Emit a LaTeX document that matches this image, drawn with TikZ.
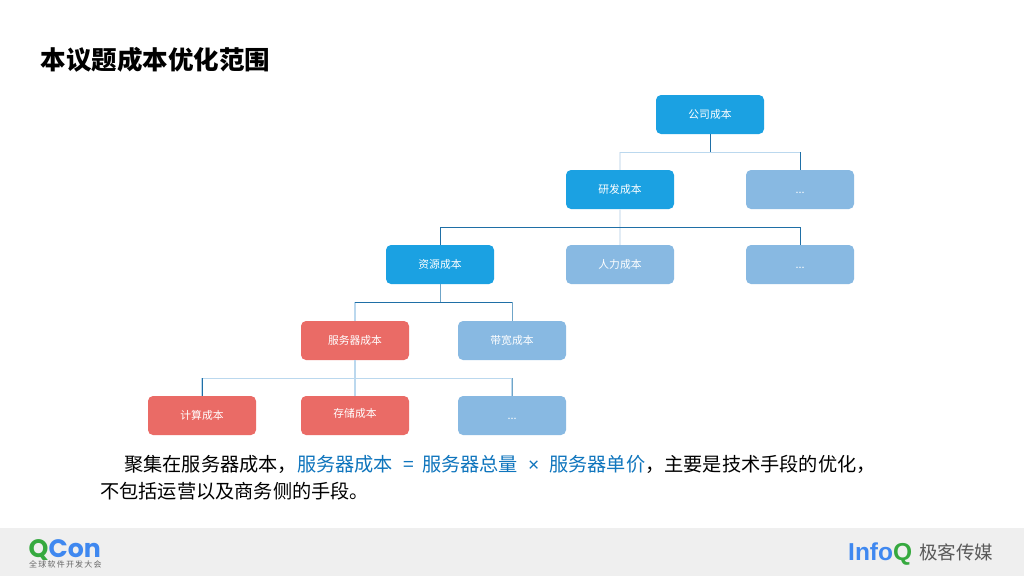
\documentclass[tikz,border=0pt]{standalone}
\usepackage{fontspec}
\setmainfont{Noto Sans CJK SC}
\newfontfamily\logofont{Liberation Sans}
\newfontfamily\qconfont{Poppins}
\usetikzlibrary{calc}
\definecolor{nodeblue}{HTML}{1BA1E2}
\definecolor{nodepale}{HTML}{88B9E2}
\definecolor{nodered}{HTML}{EA6B66}
\definecolor{edgedark}{HTML}{1F6FA6}
\definecolor{edgemid}{HTML}{6FA5C8}
\definecolor{edgelight}{HTML}{BBD8EE}
\definecolor{edgefaint}{HTML}{E2ECF5}
\definecolor{bodyblue}{HTML}{0F75BD}
\definecolor{footerbg}{HTML}{EFEFEF}
\definecolor{qgreen}{HTML}{36A93F}
\definecolor{qblue}{HTML}{3F88F0}
\tikzset{
  box/.style={rounded corners=5pt,minimum width=108pt,minimum height=39pt,inner sep=0pt,
    text=white,font=\fontsize{10.8pt}{11pt}\selectfont,text height=8.5pt,text depth=1.5pt},
  bluebox/.style={box,fill=nodeblue},
  palebox/.style={box,fill=nodepale},
  redbox/.style={box,fill=nodered},
  darkedge/.style={draw=edgedark,line width=1pt},
  midedge/.style={draw=edgemid,line width=1pt},
  lightedge/.style={draw=edgelight,line width=1.2pt},
  faintedge/.style={draw=edgefaint,line width=1.2pt},
  bodytext/.style={anchor=base west,inner sep=0pt,font=\fontsize{19.2pt}{20pt}\selectfont,text=black}
}
\begin{document}
\begin{tikzpicture}[x=1pt,y=-1pt]
\useasboundingbox (0,0) rectangle (1024,576);
\fill[white] (0,0) rectangle (1024,576);
\fill[footerbg] (0,528) rectangle (1024,576);

\node[anchor=base west,inner sep=0pt,font=\fontsize{25.5pt}{26pt}\selectfont\bfseries] (title) at (40.5,69) {本议题成本优化范围};

\node[bluebox] (gs) at (710,114.5) {公司成本};
\node[bluebox] (yf) at (620,189.5) {研发成本};
\node[palebox] (d1) at (800,189.5) {...};
\node[bluebox] (zy) at (440,264.5) {资源成本};
\node[palebox] (rl) at (620,264.5) {人力成本};
\node[palebox] (d2) at (800,264.5) {...};
\node[redbox] (fw) at (355,340.5) {服务器成本};
\node[palebox] (dk) at (512,340.5) {带宽成本};
\node[redbox] (js) at (202,415.5) {计算成本};
\node[redbox] (cc) at (355,415.5) {\raisebox{1.5pt}{存储成本}};
\node[palebox] (d3) at (512,415.5) {...};

% bus points of the tree
\coordinate (busa) at ($(gs.south)+(0,18)$);
\coordinate (busb) at ($(yf.south)+(0,18)$);
\coordinate (busc) at ($(zy.south)+(0,18)$);
\coordinate (busd) at ($(fw.south)+(0,18)$);

% pale connectors first, so the darker ones lie on top
\draw[faintedge] (busa -| yf.north) -- (yf.north);
\draw[lightedge] (busa -| yf.north) -- (busa -| d1.north);
\draw[faintedge] (yf.south) -- (rl.north);
\draw[lightedge] (busc) -| (fw.north);
\draw[lightedge] (fw.south) -- (cc.north);
\draw[lightedge] (busd) -| (js.north);
\draw[lightedge] (busd) -| (d3.north);

\draw[darkedge] (gs.south) -- (busa);
\draw[darkedge] (d1.north |- busa) -- (d1.north);
\draw[darkedge] (busb) -| (zy.north);
\draw[darkedge] (busb) -| (d2.north);
\draw[midedge] (zy.south) -- (busc);
\draw[darkedge] (busc -| fw.north) -- (busc -| dk.north);
\draw[midedge] (busc -| dk.north) -- (dk.north);
\draw[darkedge] (busd -| js.north) -- (js.north);
\draw[midedge] (busd -| d3.north) -- (d3.north);

\node[bodytext] (l1) at (124,471) {聚集在服务器成本，\textcolor{bodyblue}{服务器成本\makebox[29.2pt][c]{\hspace{2pt}=}服务器总量\makebox[31pt][c]{{\logofont ×}}服务器单价}，主要是技术手段的优化，};
\node[bodytext] (l2) at (100,498) {不包括运营以及商务侧的手段。};

\node[anchor=base west,inner sep=0pt,text depth=0pt,font=\qconfont\bfseries\fontsize{25.2pt}{26pt}\selectfont] (qcon) at (28.5,557) {\textcolor{qgreen}{Q}\textcolor{qblue}{Con}};
\node[anchor=base west,inner sep=0pt,text=black!60,font=\fontsize{8pt}{8pt}\selectfont] (qsub) at (29,567.5) {全\hspace{1.2pt}球\hspace{1.2pt}软\hspace{1.2pt}件\hspace{1.2pt}开\hspace{1.2pt}发\hspace{1.2pt}大\hspace{1.2pt}会};
\node[anchor=base west,inner sep=0pt,font=\logofont\bfseries\fontsize{24.5pt}{25pt}\selectfont] (infoq) at (848,560.5) {\textcolor{qblue}{Info}\textcolor{qgreen}{Q}};
\node[anchor=base west,inner sep=0pt,text=black!65,font=\fontsize{18.5pt}{19pt}\selectfont] (jk) at (919,559) {极客传媒};
\end{tikzpicture}
\end{document}
